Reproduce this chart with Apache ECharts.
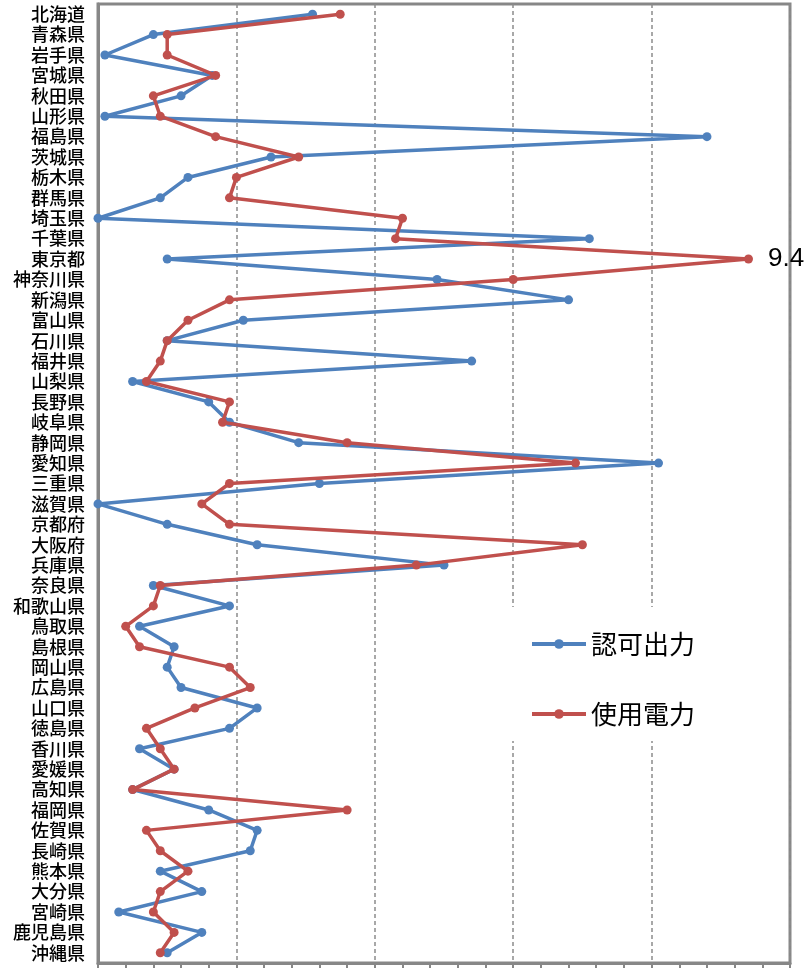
<!DOCTYPE html>
<html>
<head>
<meta charset="utf-8">
<style>
  html, body { margin: 0; padding: 0; background: #fff; }
  #chart { width: 809px; height: 968px; }
</style>
<script src="https://cdn.jsdelivr.net/npm/echarts@6/dist/echarts.min.js"></script>
</head>
<body>
<div id="chart"></div>
<script>
// Prefectures, top to bottom
const prefectures = [
  '北海道','青森県','岩手県','宮城県','秋田県','山形県','福島県','茨城県','栃木県','群馬県',
  '埼玉県','千葉県','東京都','神奈川県','新潟県','富山県','石川県','福井県','山梨県','長野県',
  '岐阜県','静岡県','愛知県','三重県','滋賀県','京都府','大阪府','兵庫県','奈良県','和歌山県',
  '鳥取県','島根県','岡山県','広島県','山口県','徳島県','香川県','愛媛県','高知県','福岡県',
  '佐賀県','長崎県','熊本県','大分県','宮崎県','鹿児島県','沖縄県'
];

// 認可出力
const licensedOutput = [
  3.1, 0.8, 0.1, 1.65, 1.2, 0.1, 8.8, 2.5, 1.3, 0.9,
  0.0, 7.1, 1.0, 4.9, 6.8, 2.1, 1.0, 5.4, 0.5, 1.6,
  1.9, 2.9, 8.1, 3.2, 0.0, 1.0, 2.3, 5.0, 0.8, 1.9,
  0.6, 1.1, 1.0, 1.2, 2.3, 1.9, 0.6, 1.1, 0.5, 1.6,
  2.3, 2.2, 0.9, 1.5, 0.3, 1.5, 1.0
];

// 使用電力
const powerUsed = [
  3.5, 1.0, 1.0, 1.7, 0.8, 0.9, 1.7, 2.9, 2.0, 1.9,
  4.4, 4.3, 9.4, 6.0, 1.9, 1.3, 1.0, 0.9, 0.7, 1.9,
  1.8, 3.6, 6.9, 1.9, 1.5, 1.9, 7.0, 4.6, 0.9, 0.8,
  0.4, 0.6, 1.9, 2.2, 1.4, 0.7, 0.9, 1.1, 0.5, 3.6,
  0.7, 0.9, 1.3, 0.9, 0.8, 1.1, 0.9
];

const seriesNames = ['認可出力', '使用電力'];
const labelledPrefecture = '東京都';

const BLUE = '#4F81BD';
const RED = '#C0504D';
const GREY = '#878787';
const CJK = '"Noto Sans CJK JP", "Noto Sans CJK SC", sans-serif';

const labelIndex = prefectures.indexOf(labelledPrefecture);
const powerData = powerUsed.map((v, i) => i === labelIndex ? {
  value: v,
  label: {
    show: true,
    position: 'right',
    distance: 15,
    formatter: (p) => p.value.toFixed(1),
    color: '#000',
    fontSize: 26,
    fontFamily: 'Liberation Sans, sans-serif'
  }
} : v);

const chart = echarts.init(document.getElementById('chart'), null, { renderer: 'canvas' });

chart.setOption({
  animation: false,
  backgroundColor: '#fff',
  grid: {
    left: 98, right: 19, top: 4, bottom: 5,
    show: true,
    borderColor: GREY,
    borderWidth: 3,
    backgroundColor: 'transparent'
  },
  legend: {
    orient: 'vertical',
    left: 505,
    top: 607,
    padding: [24, 20, 14, 25],
    backgroundColor: '#fff',
    itemWidth: 54,
    itemHeight: 12,
    itemGap: 44,
    lineStyle: { width: 4 },
    itemStyle: { borderWidth: 0 },
    textStyle: { fontSize: 26, color: '#000', fontFamily: CJK },
    data: seriesNames
  },
  xAxis: {
    type: 'value',
    min: 0,
    max: 10,
    interval: 2,
    axisLine: { show: true, lineStyle: { color: GREY, width: 3 } },
    axisTick: { show: true, length: 6, lineStyle: { color: GREY, width: 2 } },
    minorTick: { show: true, splitNumber: 5, length: 6, lineStyle: { color: GREY, width: 2 } },
    axisLabel: { show: false },
    splitLine: { show: true, lineStyle: { color: '#8c8c8c', width: 1.5, type: [4, 3] } }
  },
  yAxis: {
    type: 'category',
    inverse: true,
    data: prefectures,
    boundaryGap: true,
    axisLine: { show: true, lineStyle: { color: GREY, width: 3 } },
    axisTick: { show: false },
    splitLine: { show: false },
    axisLabel: {
      interval: 0,
      margin: 13,
      color: '#000',
      fontSize: 18,
      fontWeight: 500,
      fontFamily: CJK
    }
  },
  series: [
    {
      name: seriesNames[0],
      type: 'line',
      data: licensedOutput,
      color: BLUE,
      symbol: 'circle',
      symbolSize: 9,
      lineStyle: { width: 3.5, color: BLUE },
      itemStyle: { color: BLUE },
      z: 2
    },
    {
      name: seriesNames[1],
      type: 'line',
      data: powerData,
      color: RED,
      symbol: 'circle',
      symbolSize: 9,
      lineStyle: { width: 3.5, color: RED },
      itemStyle: { color: RED },
      z: 3
    }
  ]
});
</script>
</body>
</html>
